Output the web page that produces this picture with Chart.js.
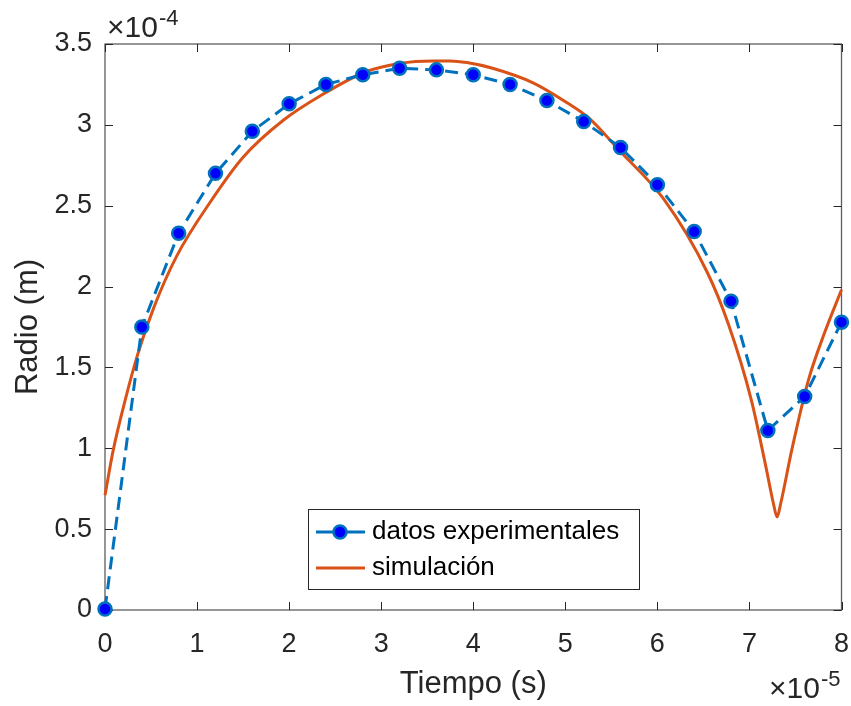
<!DOCTYPE html>
<html>
<head>
<meta charset="utf-8">
<script src="https://cdn.jsdelivr.net/npm/chart.js@4/dist/chart.umd.min.js"></script>
<style>
  html, body { margin: 0; background: #fff; }
</style>
</head>
<body>
<canvas id="chart" width="851" height="706"></canvas>
<script>
// tiempo en unidades de 1e-5 s, radio en unidades de 1e-4 m
const expTime   = [0, 0.4, 0.8, 1.2, 1.6, 2.0, 2.4, 2.8, 3.2, 3.6, 4.0, 4.4, 4.8, 5.2, 5.6, 6.0, 6.4, 6.8, 7.2, 7.6, 8.0];
const expRadius = [0.006, 1.75, 2.33, 2.70, 2.96, 3.13, 3.25, 3.31, 3.35, 3.34, 3.31, 3.25, 3.15, 3.02, 2.86, 2.63, 2.34, 1.91, 1.11, 1.32, 1.78];

const simTime   = [0, 0.09, 0.22, 0.36, 0.53, 0.78, 1.14, 1.50, 1.94, 2.34, 2.84, 3.2, 3.56, 3.75, 3.93, 4.21, 4.65, 5.01, 5.26, 5.59, 6.07, 6.54, 6.77, 7.02, 7.17, 7.26, 7.30, 7.34, 7.46, 7.64, 7.82, 8.0];
const simRadius = [0.71, 0.99, 1.30, 1.59, 1.87, 2.19, 2.52, 2.80, 3.03, 3.18, 3.33, 3.38, 3.395, 3.395, 3.385, 3.35, 3.26, 3.14, 3.04, 2.84, 2.54, 2.09, 1.77, 1.30, 0.91, 0.66, 0.575, 0.66, 0.99, 1.42, 1.72, 1.98];

const xTicks = [0, 1, 2, 3, 4, 5, 6, 7, 8];
const yTicks = [0, 0.5, 1, 1.5, 2, 2.5, 3, 3.5];

const seriesLabels = ['datos experimentales', 'simulación'];

const FONT = '"Liberation Sans", Arial, Helvetica, sans-serif';
const TEXT = '#262626';
const BLUE = '#0072BD';
const ORANGE = '#D95319';

const toPoints = (xs, ys) => xs.map((x, i) => ({ x, y: ys[i] }));

// caja de ejes con marcas hacia dentro en los cuatro lados
const axesBox = {
  id: 'axesBox',
  beforeDatasetsDraw(chart) {
    const { ctx, chartArea: a, scales: { x, y } } = chart;
    ctx.save();
    ctx.strokeStyle = '#5e5e5e';
    ctx.lineWidth = 1.3;
    ctx.strokeRect(a.left, a.top, a.right - a.left, a.bottom - a.top);
    ctx.strokeStyle = TEXT;
    ctx.lineWidth = 1;
    ctx.beginPath();
    x.ticks.forEach(t => {
      const px = Math.round(x.getPixelForValue(t.value)) + 0.5;
      ctx.moveTo(px, a.bottom); ctx.lineTo(px, a.bottom - 8);
      ctx.moveTo(px, a.top); ctx.lineTo(px, a.top + 8);
    });
    y.ticks.forEach(t => {
      const py = Math.round(y.getPixelForValue(t.value)) + 0.5;
      ctx.moveTo(a.left, py); ctx.lineTo(a.left + 8, py);
      ctx.moveTo(a.right, py); ctx.lineTo(a.right - 8, py);
    });
    ctx.stroke();
    ctx.restore();
  }
};

// leyenda dentro del área, como en MATLAB
const boxLegend = {
  id: 'boxLegend',
  afterDatasetsDraw(chart) {
    const { ctx } = chart;
    const bx = 308.5, by = 509.5, bw = 331, bh = 80;
    ctx.save();
    ctx.fillStyle = '#fff';
    ctx.fillRect(bx, by, bw, bh);
    ctx.strokeStyle = '#262626';
    ctx.lineWidth = 1;
    ctx.strokeRect(bx, by, bw, bh);
    const rows = [532, 568];
    chart.data.datasets.forEach((ds, i) => {
      const cy = rows[i];
      ctx.strokeStyle = ds.borderColor;
      ctx.lineWidth = ds.borderWidth;
      ctx.setLineDash([]);
      ctx.beginPath();
      ctx.moveTo(316, cy); ctx.lineTo(365, cy);
      ctx.stroke();
      if (ds.pointRadius > 0) {
        ctx.beginPath();
        ctx.arc(340, cy, ds.pointRadius, 0, Math.PI * 2);
        ctx.fillStyle = ds.pointBackgroundColor;
        ctx.fill();
        ctx.lineWidth = ds.pointBorderWidth;
        ctx.strokeStyle = ds.pointBorderColor;
        ctx.stroke();
      }
      ctx.fillStyle = '#000';
      ctx.font = '26px ' + FONT;
      ctx.textBaseline = 'middle';
      ctx.textAlign = 'left';
      ctx.fillText(ds.label, 372, cy);
    });
    ctx.restore();
  }
};

// multiplicadores de eje
const exponents = {
  id: 'exponents',
  afterDraw(chart) {
    const { ctx } = chart;
    ctx.save();
    ctx.fillStyle = TEXT;
    ctx.textBaseline = 'alphabetic';
    ctx.textAlign = 'left';
    const drawExp = (x, base, exp) => {
      ctx.font = '30px ' + FONT;
      ctx.fillText('\u00d710', x, base);
      const w = ctx.measureText('\u00d710').width;
      ctx.font = '22px ' + FONT;
      ctx.fillText(exp, x + w + 1, base - 12);
    };
    drawExp(107, 37, '-4');
    drawExp(769, 698, '-5');
    ctx.restore();
  }
};

new Chart(document.getElementById('chart'), {
  type: 'scatter',
  data: {
    datasets: [
      {
        label: seriesLabels[0],
        data: toPoints(expTime, expRadius),
        showLine: true,
        borderColor: BLUE,
        borderWidth: 3,
        borderDash: [13, 7],
        pointRadius: 6.5,
        pointBackgroundColor: '#0000FF',
        pointBorderColor: BLUE,
        pointBorderWidth: 2.5,
        clip: false,
        order: 1,
      },
      {
        label: seriesLabels[1],
        data: toPoints(simTime, simRadius),
        showLine: true,
        borderColor: ORANGE,
        borderWidth: 3,
        pointRadius: 0,
        cubicInterpolationMode: 'monotone',
        clip: false,
        order: 2,
      },
    ],
  },
  options: {
    responsive: false,
    animation: false,
    devicePixelRatio: 1,
    layout: { padding: { top: 44, right: 9.5, left: 0, bottom: 0 } },
    plugins: {
      legend: { display: false },
      tooltip: { enabled: false },
    },
    scales: {
      x: {
        type: 'linear',
        min: 0,
        max: 8,
        afterBuildTicks: s => { s.ticks = xTicks.map(v => ({ value: v })); },
        afterFit: s => { s.height = 96; s.paddingLeft = 0; s.paddingRight = 0; },
        grid: { display: false, drawTicks: false },
        border: { display: false },
        ticks: {
          padding: 18,
          color: TEXT,
          font: { family: FONT, size: 27 },
          maxRotation: 0,
          callback: v => String(v),
        },
        title: {
          display: true,
          text: 'Tiempo (s)',
          color: TEXT,
          font: { family: FONT, size: 31 },
          padding: { top: 0, bottom: 3 },
        },
      },
      y: {
        type: 'linear',
        min: 0,
        max: 3.5,
        afterBuildTicks: s => { s.ticks = yTicks.map(v => ({ value: v })); },
        afterFit: s => { s.width = 105; s.paddingTop = 0; s.paddingBottom = 0; },
        grid: { display: false, drawTicks: false },
        border: { display: false },
        ticks: {
          padding: 13,
          color: TEXT,
          font: { family: FONT, size: 27 },
          callback: v => String(v),
        },
        title: {
          display: true,
          text: 'Radio (m)',
          color: TEXT,
          font: { family: FONT, size: 31 },
          padding: { top: 10, bottom: 0 },
        },
      },
    },
  },
  plugins: [axesBox, boxLegend, exponents],
});
</script>
</body>
</html>
